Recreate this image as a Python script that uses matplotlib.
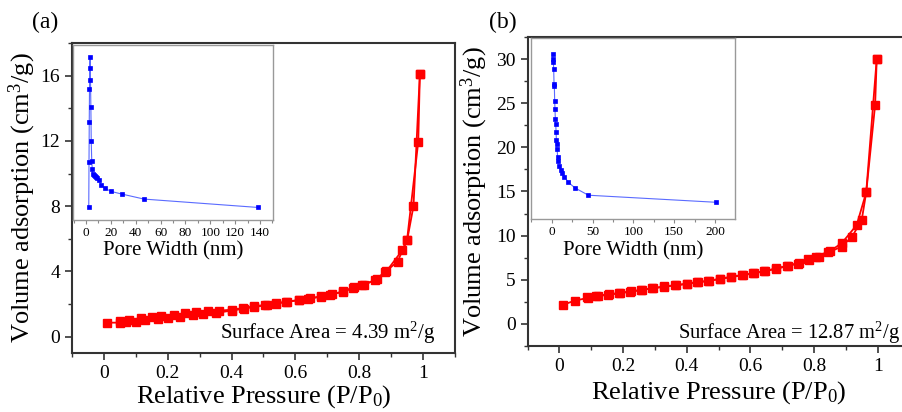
import numpy as np
import matplotlib
matplotlib.use("Agg")
import matplotlib.pyplot as plt
from matplotlib.ticker import MultipleLocator, AutoMinorLocator

plt.rcParams['font.family'] = 'serif'
plt.rcParams['font.serif'] = ['Liberation Serif', 'Times New Roman', 'DejaVu Serif']
plt.rcParams['mathtext.fontset'] = 'custom'
plt.rcParams['mathtext.rm'] = 'Liberation Serif'
plt.rcParams['mathtext.it'] = 'Liberation Serif:italic'

# ==== panel (a) isotherm ====
ads_p_a = [0.01, 0.05, 0.07, 0.10, 0.13, 0.17, 0.20, 0.24, 0.28, 0.31, 0.35, 0.40, 0.44, 0.47,
           0.51, 0.54, 0.57, 0.61, 0.64, 0.68, 0.71, 0.75, 0.78, 0.81, 0.85, 0.88, 0.92, 0.95,
           0.97, 0.99]
ads_v_a = [0.86, 0.86, 0.90, 0.93, 1.02, 1.10, 1.13, 1.20, 1.30, 1.36, 1.45, 1.60, 1.72, 1.82,
           1.93, 2.03, 2.13, 2.23, 2.33, 2.45, 2.58, 2.75, 2.98, 3.15, 3.48, 3.95, 4.60, 5.90,
           8.00, 16.1]
des_p_a = [0.99, 0.985, 0.95, 0.935, 0.885, 0.855, 0.815, 0.785, 0.75, 0.715, 0.68, 0.645, 0.61,
           0.575, 0.54, 0.505, 0.47, 0.435, 0.40, 0.36, 0.325, 0.29, 0.255, 0.22, 0.18, 0.15,
           0.115, 0.08, 0.05]
des_v_a = [16.1, 11.95, 5.95, 5.30, 4.00, 3.52, 3.18, 3.05, 2.78, 2.60, 2.47, 2.35, 2.25,
           2.15, 2.05, 1.95, 1.86, 1.75, 1.65, 1.60, 1.55, 1.50, 1.43, 1.35, 1.25, 1.20,
           1.12, 1.05, 0.98]

# ==== panel (a) pore size (inset) ====
pore_w_a = [2.2, 2.4, 2.6, 2.8, 3.0, 3.3, 3.6, 3.9, 4.2, 4.6, 5.0, 5.4, 6.2, 7.0, 7.8, 8.8,
            10.2, 12.3, 15.3, 20.1, 28.7, 46.7, 138.1]
pore_v_a = [7.94, 10.72, 13.15, 15.17, 16.5, 17.17, 15.74, 14.09, 11.99, 10.8, 10.29, 9.98,
            9.90, 9.86, 9.80, 9.72, 9.60, 9.31, 9.11, 8.92, 8.76, 8.45, 7.94]

# ==== panel (b) isotherm ====
ads_p_b = [0.01, 0.048, 0.09, 0.115, 0.152, 0.187, 0.222, 0.257, 0.29, 0.327, 0.363, 0.40,
           0.432, 0.468, 0.504, 0.538, 0.574, 0.609, 0.644, 0.68, 0.716, 0.75, 0.783, 0.816,
           0.845, 0.887, 0.92, 0.95, 0.964, 0.997]
ads_v_b = [2.15, 2.64, 2.95, 3.12, 3.30, 3.46, 3.64, 3.83, 4.02, 4.20, 4.36, 4.52, 4.70,
           4.86, 5.08, 5.30, 5.50, 5.72, 5.95, 6.24, 6.54, 6.84, 7.20, 7.56, 8.10, 8.76,
           9.90, 11.8, 14.9, 30.0]
des_p_b = [0.997, 0.992, 0.964, 0.934, 0.887, 0.85, 0.806, 0.78, 0.752, 0.718, 0.682, 0.646,
           0.611, 0.576, 0.54, 0.506, 0.47, 0.434, 0.40, 0.365, 0.33, 0.295, 0.26, 0.225,
           0.19, 0.155, 0.12, 0.085]
des_v_b = [30.0, 24.8, 14.9, 11.2, 9.14, 8.25, 7.63, 7.30, 6.92, 6.60, 6.30, 6.00, 5.76,
           5.55, 5.36, 5.12, 4.90, 4.74, 4.56, 4.40, 4.25, 4.06, 3.88, 3.70, 3.52, 3.36,
           3.20, 3.05]

# ==== panel (b) pore size (inset) ====
pore_w_b = [1.2, 1.6, 2.0, 2.4, 2.8, 3.2, 3.6, 4.0, 4.4, 4.9, 5.3, 5.7, 6.1, 6.5, 7.3, 8.1,
            9.3, 11.0, 12.6, 15.5, 20.4, 28.6, 44.9, 201.0]
pore_v_b = [30.6, 30.0, 29.7, 28.9, 27.25, 27.0, 25.25, 24.4, 23.2, 22.7, 21.8, 20.9, 20.4,
            19.9, 18.9, 18.5, 17.95, 17.46, 17.08, 16.7, 16.06, 15.42, 14.6, 13.8]

red = '#ff0000'
blue = '#0000ff'
light_blue = '#5a6bff'


def style_main(ax, ylim, ymajor, xlab_y, ylab_x):
    ax.set_xlim(-0.1, 1.1)
    ax.set_ylim(*ylim)
    ax.xaxis.set_minor_locator(MultipleLocator(0.1))
    ax.yaxis.set_major_locator(MultipleLocator(ymajor))
    ax.yaxis.set_minor_locator(AutoMinorLocator(2))
    ax.set_xticks([0, 0.2, 0.4, 0.6, 0.8, 1.0])
    ax.set_xticklabels(['0', '0.2', '0.4', '0.6', '0.8', '1'])
    ax.tick_params(which='major', length=5, width=1.2, labelsize=14, color='#333333')
    ax.tick_params(which='minor', length=3, width=1.0, color='#333333')
    for s in ax.spines.values():
        s.set_linewidth(1.5)
        s.set_color('#333333')
    ax.set_xlabel('Relative Pressure (P/P$_0$)', fontsize=19)
    ax.set_ylabel('Volume adsorption (cm$^3$/g)', fontsize=19)
    ax.xaxis.set_label_coords(0.5, xlab_y)
    ax.yaxis.set_label_coords(ylab_x, 0.5)


def style_inset(ax, xlim, xmajor, ylim):
    ax.set_xlim(*xlim)
    ax.set_ylim(*ylim)
    ax.xaxis.set_major_locator(MultipleLocator(xmajor))
    ax.xaxis.set_minor_locator(AutoMinorLocator(2))
    ax.set_yticks([])
    ax.tick_params(which='major', length=3, width=0.8, labelsize=9.5, color='#888888', pad=2)
    ax.tick_params(which='minor', length=2, width=0.8, color='#888888')
    for s in ax.spines.values():
        s.set_linewidth(1.0)
        s.set_color('#999999')
    ax.set_xlabel('Pore Width (nm)', fontsize=15, labelpad=2)


fig = plt.figure(figsize=(9.02, 4.12), dpi=100)

# ---- (a) ----
ax1 = fig.add_axes([0.0798, 0.1432, 0.4246, 0.7524])
ax1.plot(ads_p_a, ads_v_a, '-s', color=red, lw=1.3, ms=5.5)
ax1.plot(des_p_a, des_v_a, '-s', color=red, lw=1.3, ms=5.5)
style_main(ax1, (-1, 18), 4, -0.098, -0.089)
ax1.text(0.363, 0.22, 'Surface Area = 4.39 m$^2$/g', fontsize=15, ha='left', va='center')
fig.text(0.035, 0.945, '(a)', fontsize=17, ha='left', va='center')

in1 = fig.add_axes([0.0809, 0.466, 0.2214, 0.4248])
in1.plot(pore_w_a, pore_v_a, '-s', color=light_blue, mfc=blue, mec=blue, lw=0.8, ms=2.5,
         markeredgewidth=0.5)
style_inset(in1, (-10.5, 150.2), 20, (7.17, 17.88))

# ---- (b) ----
ax2 = fig.add_axes([0.585, 0.1602, 0.4233, 0.75])
ax2.plot(ads_p_b, ads_v_b, '-s', color=red, lw=1.3, ms=5.5)
ax2.plot(des_p_b, des_v_b, '-s', color=red, lw=1.3, ms=5.5)
style_main(ax2, (-2.5, 32.5), 5, -0.108, -0.099)
ax2.text(0.372, -1.0, 'Surface Area = 12.87 m$^2$/g', fontsize=14.8, ha='left', va='center',
         clip_on=False)
fig.text(0.542, 0.945, '(b)', fontsize=17, ha='left', va='center')

in2 = fig.add_axes([0.5887, 0.4684, 0.2262, 0.4386])
in2.plot(pore_w_b, pore_v_b, '-s', color=light_blue, mfc=blue, mec=blue, lw=0.8, ms=2.5,
         markeredgewidth=0.5)
style_inset(in2, (-25.4, 224.6), 50, (11.9, 32.4))

fig.savefig('out.png', dpi=100)
